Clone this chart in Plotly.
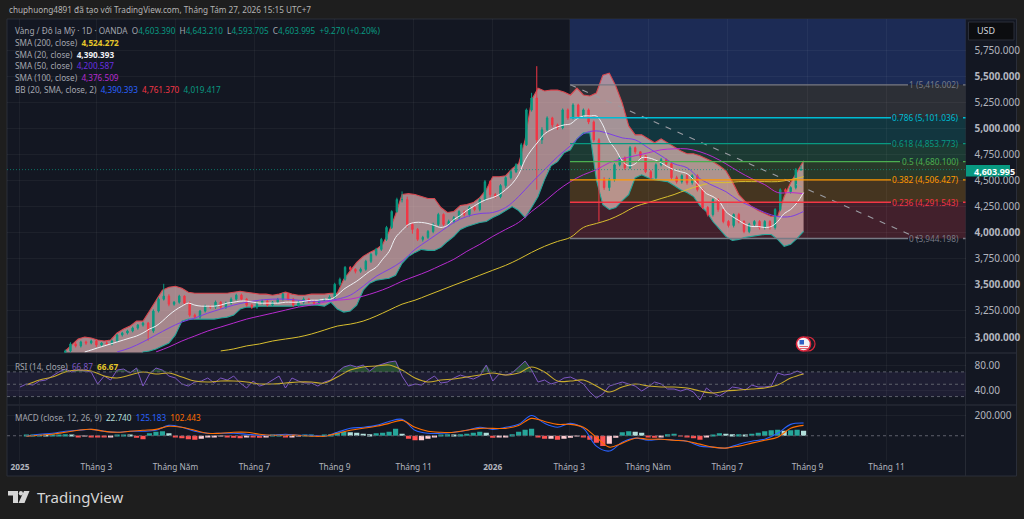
import pandas as pd
import numpy as np
import plotly.graph_objects as go
from plotly.subplots import make_subplots

W, H = 1024, 519
FONT = "Noto Sans"

# Ejes de tiempo
line_dates = pd.date_range("2025-01-01", periods=122, freq="5D")
candle_dates = pd.date_range("2025-02-05", periods=143, freq="4D")

month_ticks = ["2025-01-01", "2025-03-01", "2025-05-01", "2025-07-01", "2025-09-01", "2025-11-01",
               "2026-01-01", "2026-03-01", "2026-05-01", "2026-07-01", "2026-09-01", "2026-11-01"]
month_labels = ["<b>2025</b>", "Tháng 3", "Tháng Năm", "Tháng 7", "Tháng 9", "Tháng 11",
                "<b>2026</b>", "Tháng 3", "Tháng Năm", "Tháng 7", "Tháng 9", "Tháng 11"]

price_ticks = [3000, 3250, 3500, 3750, 4000, 4250, 4500, 4750, 5000, 5250, 5500, 5750]
price_labels = ["<b>3,000.000</b>", "3,250.000", "<b>3,500.000</b>", "3,750.000", "<b>4,000.000</b>", "4,250.000",
                "4,500.000", "4,750.000", "<b>5,000.000</b>", "5,250.000", "<b>5,500.000</b>", "5,750.000"]
price_range = [2852, 6047]

# Velas
candle_open = [2840,2867,2934,2915,2953,2943,2962,2924,2943,
               2934,2962,3020,3039,3058,3086,3115,3134,
               3058,3249,3363,3392,3315,3334,3392,3325,3210,3191,3249,3296,3287,3334,3287,3325,3363,3401,3363,3306,3287,3325,3344,3306,3334,3363,3411,3363,3306,3334,3363,3344,3325,3353,3363,
               3382,3506,3554,3668,3649,3630,3649,3726,3792,3840,3936,4050,4203,4317,4317,4079,4031,3936,3955,4012,4079,4174,4079,4107,4145,4203,4174,4241,4222,4317,4489,4365,4346,4451,4527,4584,4651,4842,5176,
               5290,4889,4985,5099,5032,5004,5176,5099,5223,5118,5176,5061,4889,4508,4432,4508,4651,4718,4622,4813,4775,4737,4584,4527,4651,4699,4660,4527,4489,4546,4479,4546,4412,4241,4174,4317,4222,4107,4069,4174,4107,4012,4079,4107,4050,4107,4050,4222,4412,4393,4432,4603]
candle_high = [2880,2950,2950,2965,2965,2975,2975,2950,2960,
               2975,3030,3050,3070,3100,3125,3145,3145,
               3265,3380,3510,3410,3345,3405,3400,3340,3225,3260,3310,3305,3350,3345,3340,3380,3415,3415,3375,3320,3340,3360,3355,3345,3375,3425,3420,3375,3350,3380,3375,3355,3365,3375,3400,
               3520,3570,3680,3680,3660,3665,3740,3805,3855,3950,4065,4215,4335,4395,4345,4095,4045,3970,4025,4095,4190,4185,4125,4160,4215,4215,4255,4255,4330,4505,4500,4380,4465,4540,4600,4665,4860,5190,5340,
               5595,5010,5115,5110,5045,5190,5190,5240,5235,5190,5190,5075,4905,4530,4525,4665,4730,4730,4830,4825,4760,4745,4600,4665,4715,4710,4675,4545,4560,4560,4560,4560,4425,4255,4330,4330,4235,4120,4185,4190,4120,4095,4120,4120,4120,4120,4235,4425,4425,4445,4620,4643]
candle_low = [2820,2850,2900,2900,2925,2930,2905,2905,2925,
              2920,2950,3005,3025,3045,3070,3100,2965,
              3040,3235,3350,3295,3300,3320,3310,3195,3170,3175,3235,3270,3270,3270,3270,3310,3350,3350,3290,3270,3270,3310,3290,3295,3320,3350,3350,3290,3290,3320,3325,3310,3315,3345,3350,
              3365,3490,3540,3630,3610,3615,3635,3710,3775,3825,3920,4035,4190,4290,4050,3990,3920,3915,3940,3995,4060,4060,4060,4090,4125,4155,4155,4205,4205,4300,4340,4330,4330,4430,4510,4570,4635,4830,5160,
              4412,4850,4970,5010,4985,4990,5080,5085,5100,5100,5040,4870,4107,4410,4400,4490,4635,4600,4610,4755,4715,4570,4510,4510,4635,4640,4505,4470,4470,4460,4460,4395,4225,4155,4155,4200,4090,4050,4050,4090,3995,3995,4060,4030,4030,4030,4030,4205,4375,4375,4415,4593]
candle_close = [2867,2934,2915,2953,2943,2962,2924,2943,2934,
                2962,3020,3039,3058,3086,3115,3134,3058,
                3249,3363,3392,3315,3334,3392,3325,3210,3191,3249,3296,3287,3334,3287,3325,3363,3401,3363,3306,3287,3325,3344,3306,3334,3363,3411,3363,3306,3334,3363,3344,3325,3353,3363,3382,
                3506,3554,3668,3649,3630,3649,3726,3792,3840,3936,4050,4203,4317,4317,4079,4031,3936,3955,4012,4079,4174,4079,4107,4145,4203,4174,4241,4222,4317,4489,4365,4346,4451,4527,4584,4651,4842,5176,5290,
                4889,4985,5099,5032,5004,5176,5099,5223,5118,5176,5061,4889,4508,4432,4508,4651,4718,4622,4813,4775,4737,4584,4527,4651,4699,4660,4527,4489,4546,4479,4546,4412,4241,4174,4317,4222,4107,4069,4174,4107,4012,4079,4107,4050,4107,4050,4222,4412,4393,4432,4603,4604]

# Bandas de Bollinger (desde el punto 7 de line_dates)
bb_upper = [2867,2924,2981,3000,2991,2972,2962,2972,3039,3077,3105,3153,3153,3249,3344,3449,3477,3487,3468,3430,3420,3420,3420,3420,3420,3420,3430,3439,3430,3420,3411,3411,3401,3411,3430,3411,3401,3401,3411,3411,3411,3420,3420,3554,3640,3716,3773,3811,3840,3888,4012,4174,4365,4374,4365,4346,4327,4327,4241,4193,4203,4260,4269,4288,4336,4412,4536,4536,4546,4613,4660,4889,5271,5385,5357,5366,5366,5347,5319,5385,5319,5309,5338,5509,5529,5405,5242,5023,4937,4937,4899,4861,4899,4861,4823,4784,4756,4756,4737,4708,4680,4641,4594,4489,4365,4298,4250,4212,4183,4155,4155,4346,4479,4584,4689,4756]
bb_lower = [2780,2780,2780,2780,2780,2780,2780,2780,2780,2780,2780,2780,
            2857,2867,2886,2915,2943,3020,3153,3172,3172,3172,3172,3172,3182,3191,3210,3268,3287,3287,3296,3296,3296,3296,3296,3296,3306,3306,3306,3306,3296,3334,3268,3239,3249,3306,3449,3516,3544,3554,3563,3592,3706,3773,3811,3840,3830,3830,3859,3916,3964,4031,4059,4079,4098,4107,4145,4174,4212,4250,4212,4145,4241,4346,4508,4641,4680,4765,4794,4899,4956,4956,4508,4269,4222,4241,4307,4365,4527,4555,4527,4508,4498,4489,4451,4412,4384,4346,4260,4203,4107,4031,3964,3926,3936,3955,3964,3974,3983,3983,3936,3869,3888,3945,4012]

# Medias móviles
sma20 = [2857,2876,2896,2915,2934,2953,2972,2991,3010,3039,3077,3105,3153,3210,3258,3296,3325,3306,3296,3296,3296,3306,3325,3334,3344,3344,3334,3325,3325,3325,3325,3334,3334,3334,3344,3353,3353,3363,3363,3401,3458,3497,3535,3582,3630,3668,3745,3821,3954,4021,4079,4098,4098,4088,4069,4050,4069,4126,4164,4212,4250,4288,4317,4336,4365,4412,4470,4556,4699,4794,4870,4947,4985,5013,5032,5042,5090,5118,5118,5118,5032,4880,4794,4689,4641,4660,4718,4718,4699,4670,4632,4603,4584,4565,4508,4441,4374,4346,4298,4202,4155,4117,4079,4059,4059,4050,4059,4107,4183,4222,4288,4384]
sma50 = [2857,2896,2953,3020,3086,3144,3182,3229,3268,3306,3334,3353,3363,3363,3353,3344,3344,3363,3401,3487,3582,3649,3726,3840,3926,4012,4098,4155,4183,4193,4241,4346,4479,4603,4727,4832,4947,4975,4947,4908,4889,4813,4737,4660,4622,4517,4451,4393,4307,4250,4193,4155,4155,4203]
sma100 = [2857,2905,2962,3010,3058,3096,3134,3172,3201,3229,3258,3287,3306,3334,3353,3363,3392,3430,3477,3535,3582,3630,3687,3745,3821,3888,3964,4031,4098,4203,4298,4403,4489,4555,4603,4670,4708,4737,4765,4794,4803,4803,4775,4727,4660,4584,4517,4460,4384,4384,4374]
sma200 = [2867,2886,2915,2934,2962,2981,3000,3029,3067,3105,3124,3153,3201,3258,3315,3353,3401,3449,3497,3544,3592,3640,3687,3745,3811,3869,3916,3955,4050,4088,4126,4183,4250,4288,4327,4365,4412,4451,4479,4479,4489,4489,4489,4489,4508,4536]

# Fibonacci
fib_ratio = ["1", "0.786", "0.618", "0.5", "0.382", "0.236", "0"]
fib_price = [5416.002, 5101.036, 4853.773, 4680.100, 4506.427, 4291.543, 3944.198]
fib_color = ["#787b86", "#00bcd4", "#089981", "#4caf50", "#ff9800", "#f23645", "#787b86"]
fib_fill = ["#2c2f36", "#12363f", "#1c3a33", "#28392a", "#453520", "#42202c"]
fib_line_end = [908, 891, 891, 900, 891, 891, 908]

# RSI
rsi = [45.5,50.4,48.7,55.2,56.8,63.3,69.8,74.7,69.8,73,71.4,69.8,50.4,63.3,56.8,73,74.7,68.2,76.3,47.1,66.6,76.3,73,63.3,60.1,50.4,47.1,53.6,55.2,60.1,52,60.1,56.8,63.3,52,43.9,55.2,47.1,50.4,56.8,63.3,43.9,60.1,55.2,52,52,47.1,53.6,56.8,69.8,77.9,81.1,77.9,81.1,71.4,79.5,82.8,86,87.6,63.3,47.1,50.4,48.7,56.8,63.3,52,53.6,60.1,64.9,61.7,58.4,63.3,81.1,55.2,66.6,64.9,68.2,77.9,87.6,73,53.6,56.8,50.4,53.6,60.1,61.7,56.8,50.4,37.4,27.7,34.2,47.1,50.4,53.6,50.4,47.1,39,45.5,53.6,50.4,42.3,42.3,39,42.3,37.4,24.4,43.9,35.8,30.9,37.4,45.5,43.9,40.6,48.7,45.5,45.5,47.1,68.2,64.9,66.6,71.4,66.87]
rsi_ma = [48.7,56.8,61.7,69.8,73,71.4,63.3,60.1,64.9,69.8,66.6,68.2,61.7,55.2,53.6,55.2,55.2,53.6,50.4,50.4,52,53.6,53.6,52,61.7,73,77.9,79.5,81.1,73,60.1,53.6,56.8,58.4,61.7,64.9,68.2,64.9,68.2,77.9,69.8,55.2,55.2,56.8,47.1,37.4,45.5,50.4,47.1,45.5,45.5,43.9,39,35.8,39,40.6,42.3,43.9,48.7,60.1,66.67]

# MACD
macd = [-5,15,24,44,54,63,44,34,44,44,54,102,83,44,24,24,24,15,5,5,15,5,5,-5,34,73,83,102,141,161,54,24,24,34,54,83,63,83,112,200,122,83,122,73,-102,-151,-63,-24,-44,-34,-44,-54,-102,-112,-122,-83,-54,-34,24,112,125]
macd_signal = [-5,5,15,34,54,63,44,34,44,54,63,93,83,54,24,24,34,34,15,5,5,5,-5,-5,24,54,73,93,122,151,83,44,34,34,54,73,73,73,102,171,141,112,112,83,-15,-112,-73,-24,-34,-34,-44,-54,-83,-112,-122,-102,-73,-44,-15,73,102]
macd_hist = [0,3,5,8,6,10,12,15,10,-8,
             -5,-10,-12,-15,-10,8,10,5,-20,-35,
             25,40,45,25,-10,-25,-35,-40,-30,-15,
             -10,-5,-10,-20,-25,-12,-15,-20,-8,5,
             8,-15,-10,-5,5,5,-5,5,15,30,
             40,35,30,20,15,25,30,40,70,20,
             -30,-45,-45,-30,-15,10,15,5,15,20,
             30,40,30,-20,-15,-10,15,40,60,70,
             -15,-30,-30,-40,-30,-20,-5,-10,-40,-70,
             -100,-80,-20,35,45,40,30,-15,-20,-10,
             15,20,-5,-15,-25,-40,-15,10,25,20,
             15,15,10,20,30,45,55,60,50,55,60,50]

last_price = 4603.995


def px(x):
    return x / W


def py(y):
    return 1 - y / H


def label(x, y, text, size=8.2, color="#a3a6af", anchor="left"):
    return dict(xref="paper", yref="paper", x=px(x), y=py(y), text=text, showarrow=False,
                xanchor=anchor, yanchor="middle", font=dict(family=FONT, size=size, color=color))


def span(text, color):
    return f'<span style="color:{color}">{text}</span>'


fig = make_subplots(rows=3, cols=1, shared_xaxes=True)

# Panel de precio: el relleno BB va en el eje base, velas y medias encima (eje y4)
fig.add_trace(go.Scatter(x=line_dates[7:], y=bb_upper, mode="lines", line=dict(color="#d8474f", width=1.1)), row=1, col=1)
fig.add_trace(go.Scatter(x=line_dates[7:], y=bb_lower, mode="lines", line=dict(color="#26a69a", width=1.1),
                         fill="tonexty", fillcolor="rgba(255,205,205,0.62)"), row=1, col=1)
fig.add_trace(go.Candlestick(x=candle_dates, open=candle_open, high=candle_high, low=candle_low, close=candle_close,
                             increasing=dict(line=dict(color="#089981", width=1), fillcolor="#089981"),
                             decreasing=dict(line=dict(color="#f23645", width=1), fillcolor="#f23645"),
                             whiskerwidth=0, xaxis="x", yaxis="y4"))
fig.add_trace(go.Scatter(x=line_dates[121 - 2 * (len(sma200) - 1)::2], y=sma200, mode="lines",
                         line=dict(color="#d9bf2f", width=1, shape="spline"), xaxis="x", yaxis="y4"))
fig.add_trace(go.Scatter(x=line_dates[121 - 2 * (len(sma100) - 1)::2], y=sma100, mode="lines",
                         line=dict(color="#b82bd0", width=1, shape="spline"), xaxis="x", yaxis="y4"))
fig.add_trace(go.Scatter(x=line_dates[121 - 2 * (len(sma50) - 1)::2], y=sma50, mode="lines",
                         line=dict(color="#7b3fe4", width=1, shape="spline"), xaxis="x", yaxis="y4"))
fig.add_trace(go.Scatter(x=line_dates[10:], y=sma20, mode="lines",
                         line=dict(color="#eef0f4", width=1, shape="spline"), xaxis="x", yaxis="y4"))

# Línea de tendencia del fibo
fig.add_trace(go.Scatter(x=["2026-03-02", "2026-11-26"], y=[fib_price[0], fib_price[-1]], mode="lines",
                         line=dict(color="#9a9ca3", width=1.1, dash="6px,7px"), xaxis="x", yaxis="y4"))

# Panel RSI
rsi_arr = np.array(rsi)
fig.add_trace(go.Scatter(x=line_dates, y=[70] * len(rsi), mode="lines", line=dict(width=0)), row=2, col=1)
fig.add_trace(go.Scatter(x=line_dates, y=np.maximum(rsi_arr, 70), mode="lines", line=dict(width=0),
                         fill="tonexty", fillcolor="rgba(76,175,80,0.35)"), row=2, col=1)
fig.add_trace(go.Scatter(x=line_dates, y=rsi, mode="lines", line=dict(color="#7e57c2", width=1)), row=2, col=1)
fig.add_trace(go.Scatter(x=line_dates[1::2], y=rsi_ma, mode="lines",
                         line=dict(color="#c9ab2b", width=1.1, shape="spline")), row=2, col=1)

# Panel MACD
hist_colors = []
for i, v in enumerate(macd_hist):
    prev = macd_hist[i - 1] if i > 0 else 0
    if v >= 0:
        hist_colors.append("#26a69a" if v >= prev else "#b2dfdb")
    else:
        hist_colors.append("#ffcdd2" if v >= prev else "#ff5252")
fig.add_trace(go.Bar(x=line_dates, y=macd_hist, marker=dict(color=hist_colors, line=dict(width=0)),
                     width=4.0 * 86400000), row=3, col=1)
fig.add_trace(go.Scatter(x=line_dates[1::2], y=macd, mode="lines",
                         line=dict(color="#2962ff", width=1.1, shape="spline")), row=3, col=1)
fig.add_trace(go.Scatter(x=line_dates[1::2], y=macd_signal, mode="lines",
                         line=dict(color="#ff6d00", width=1.1, shape="spline")), row=3, col=1)

# Ejes
grid = "rgba(255,255,255,0.045)"
fig.update_xaxes(type="date", range=["2024-12-22", "2027-01-01"], tickmode="array", tickvals=month_ticks,
                 ticktext=month_labels, showgrid=True, gridcolor=grid, gridwidth=1, zeroline=False,
                 showline=False, rangeslider_visible=False, domain=[px(7), px(965.5)], ticklen=0,
                 tickfont=dict(family=FONT, size=8.3, color="#b2b5be"), tickangle=0)
fig.update_yaxes(side="right", showgrid=True, gridcolor=grid, zeroline=False, showline=False,
                 tickfont=dict(family=FONT, size=10, color="#b2b5be"), ticks="outside", ticklen=6,
                 tickcolor="rgba(0,0,0,0)", tickmode="array")
fig.update_yaxes(range=price_range, domain=[py(352.5), py(19)], tickvals=price_ticks, ticktext=price_labels, row=1, col=1)
fig.update_yaxes(range=[18, 99], domain=[py(404), py(354)], tickvals=[80, 40], ticktext=["80.00", "40.00"], row=2, col=1)
fig.update_yaxes(range=[-249, 298], domain=[py(461), py(405.5)], tickvals=[200], ticktext=["200.000"], row=3, col=1)
fig.update_layout(yaxis4=dict(overlaying="y", anchor="x", range=price_range, side="right", visible=False))

shapes = []

# Fondo del gráfico y separadores
shapes.append(dict(type="rect", xref="paper", yref="paper", x0=px(7), x1=px(1016.5), y0=py(476), y1=py(19),
                   fillcolor="#131722", line=dict(color="#2a2e39", width=1), layer="below"))
for sep_y in [353, 405]:
    shapes.append(dict(type="line", xref="paper", yref="paper", x0=px(7), x1=px(1016), y0=py(sep_y), y1=py(sep_y),
                       line=dict(color="#262a34", width=1.5), layer="below"))
shapes.append(dict(type="line", xref="paper", yref="paper", x0=px(965.5), x1=px(965.5), y0=py(476), y1=py(19),
                   line=dict(color="#262a34", width=1), layer="below"))

# Zonas y niveles del fibo
shapes.append(dict(type="rect", xref="paper", yref="y", x0=px(570), x1=px(965.5), y0=fib_price[0], y1=price_range[1],
                   fillcolor="#1c2b55", line=dict(width=0), layer="below"))
for i, fill in enumerate(fib_fill):
    shapes.append(dict(type="rect", xref="paper", yref="y", x0=px(570), x1=px(965.5), y0=fib_price[i + 1], y1=fib_price[i],
                       fillcolor=fill, line=dict(width=0), layer="below"))
for price, color, end in zip(fib_price, fib_color, fib_line_end):
    shapes.append(dict(type="line", xref="paper", yref="y", x0=px(570), x1=px(end), y0=price, y1=price,
                       line=dict(color=color, width=1.3)))
    shapes.append(dict(type="line", xref="paper", yref="y", x0=px(963), x1=px(965.5), y0=price, y1=price,
                       line=dict(color=color, width=1.3)))

# Precio actual
shapes.append(dict(type="line", xref="paper", yref="y", x0=px(7), x1=px(965.5), y0=last_price, y1=last_price,
                   line=dict(color="rgba(8,153,129,0.7)", width=1, dash="1px,2px")))
shapes.append(dict(type="rect", xref="paper", yref="paper", x0=px(966), x1=px(1010), y0=py(176.5), y1=py(165),
                   fillcolor="#089981", line=dict(width=0)))

# Caja USD
shapes.append(dict(type="rect", xref="paper", yref="paper", x0=px(968.5), x1=px(1014), y0=py(40), y1=py(22),
                   fillcolor="#0c0d10", line=dict(color="#2a2e39", width=1)))

# Bandas RSI
shapes.append(dict(type="rect", xref="paper", yref="y2", x0=px(7), x1=px(965.5), y0=30, y1=70,
                   fillcolor="rgba(126,87,194,0.11)", line=dict(width=0), layer="below"))
for level in [70, 50, 30]:
    shapes.append(dict(type="line", xref="paper", yref="y2", x0=px(7), x1=px(965.5), y0=level, y1=level,
                       line=dict(color="#5d606b", width=1, dash="3px,3px")))
shapes.append(dict(type="line", xref="paper", yref="y3", x0=px(7), x1=px(965.5), y0=0, y1=0,
                   line=dict(color="#5d606b", width=1, dash="3px,3px")))

# Icono de evento (bandera)
shapes.append(dict(type="circle", xref="paper", yref="paper", x0=px(800.5), x1=px(815), y0=py(351), y1=py(337),
                   fillcolor="#1b1e27", line=dict(color="#d8283c", width=1.2)))
shapes.append(dict(type="circle", xref="paper", yref="paper", x0=px(796.5), x1=px(810.5), y0=py(351), y1=py(337),
                   fillcolor="#f2f2f5", line=dict(color="#e0283f", width=1.6)))
shapes.append(dict(type="rect", xref="paper", yref="paper", x0=px(799.5), x1=px(804), y0=py(344.5), y1=py(340),
                   fillcolor="#2f5fc4", line=dict(width=0)))
for stripe_y in [346.5, 348.5]:
    shapes.append(dict(type="line", xref="paper", yref="paper", x0=px(799.5), x1=px(808), y0=py(stripe_y), y1=py(stripe_y),
                       line=dict(color="#e0505f", width=0.9)))

# Logo TradingView
shapes.append(dict(type="path", xref="paper", yref="paper", fillcolor="#d6d6d6", line=dict(width=0),
                   path=f"M {px(8)} {py(491)} L {px(18)} {py(491)} L {px(18)} {py(503)} L {px(13)} {py(503)} "
                        f"L {px(13)} {py(495.5)} L {px(8)} {py(495.5)} Z"))
shapes.append(dict(type="circle", xref="paper", yref="paper", fillcolor="#d6d6d6", line=dict(width=0),
                   x0=px(18.8), x1=px(23), y0=py(495.5), y1=py(491)))
shapes.append(dict(type="path", xref="paper", yref="paper", fillcolor="#d6d6d6", line=dict(width=0),
                   path=f"M {px(24)} {py(491)} L {px(29.5)} {py(491)} L {px(24.5)} {py(503)} L {px(18.5)} {py(503)} Z"))

# Textos
annotations = [
    label(7, 10.5, "chuphuong4891 đã tạo với TradingView.com, Tháng Tám 27, 2026 15:15 UTC+7", color="#b4b4b4"),
    label(13, 30.5, "Vàng / Đô la Mỹ · 1D · OANDA  O" + span("4,603.390", "#089981") + "  H" + span("4,643.210", "#089981")
          + "  L" + span("4,593.705", "#089981") + "  C" + span("4,603.995", "#089981") + "  " + span("+9.270 (+0.20%)", "#089981")),
    label(13, 42.5, "SMA (200, close)  " + span("<b>4,524.272</b>", "#e6c72a")),
    label(13, 54, "SMA (20, close)  " + span("<b>4,390.393</b>", "#f0f0f4")),
    label(13, 65.5, "SMA (50, close)  " + span("4,200.587", "#6a2fe0")),
    label(13, 77.5, "SMA (100, close)  " + span("4,376.509", "#b82bd0")),
    label(13, 89, "BB (20, SMA, close, 2)  " + span("4,390.393", "#2962ff") + "  " + span("4,761.370", "#f23645") + "  " + span("4,019.417", "#089981")),
    label(13, 366, "RSI (14, close)  " + span("66.87", "#7e57c2") + "  " + span("<b>66.67</b>", "#e6c72a")),
    label(13, 417, "MACD (close, 12, 26, 9)  " + span("22.740", "#b2dfdb") + "  " + span("125.183", "#2962ff") + "  " + span("102.443", "#ff6d00")),
    label(975, 30.5, "USD", size=9, color="#d1d4dc"),
    label(972, 171, "<b>4,603.995</b>", size=9, color="#ffffff"),
    label(35, 497, "TradingView", size=15, color="#d6d6d6"),
]
for ratio, price, color in zip(fib_ratio, fib_price, fib_color):
    annotations.append(dict(xref="paper", yref="y", x=px(961), y=price, text=f"{ratio} ({price:,.3f})", showarrow=False,
                            xanchor="right", yanchor="middle", font=dict(family=FONT, size=8.3, color=color)))

fig.update_layout(width=W, height=H, margin=dict(l=0, r=0, t=0, b=0), autosize=False, showlegend=False,
                  paper_bgcolor="#1e1e1e", plot_bgcolor="rgba(0,0,0,0)", shapes=shapes, annotations=annotations,
                  hovermode=False, boxgap=0.6)
fig.update_xaxes(rangeslider_visible=False)

fig.write_html("out.html", config={"displayModeBar": False}, post_script="document.body.style.margin='0';")
